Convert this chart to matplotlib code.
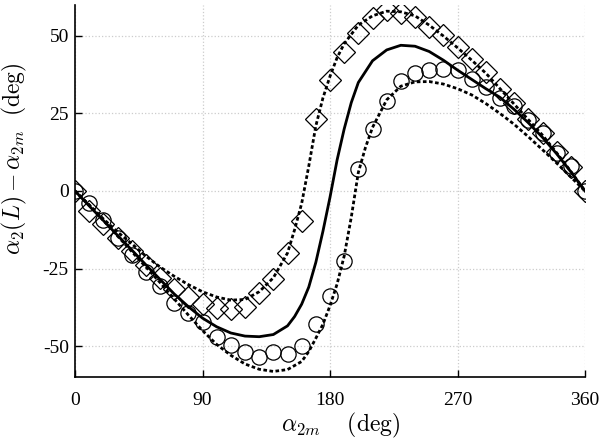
import matplotlib
matplotlib.use("Agg")
import matplotlib.pyplot as plt
import numpy as np

plt.rcParams['mathtext.fontset'] = 'cm'

# marker angles (deg)
x_mark = [0, 10, 20, 30, 40, 50, 60, 70, 80, 90, 100, 110, 120, 130, 140, 150, 160, 170, 180,
          190, 200, 210, 220, 230, 240, 250, 260, 270, 280, 290, 300, 310, 320, 330, 340, 350, 360]

diamonds = [0, -6.5, -10.5, -15, -19.5, -24, -28, -31.5, -34.2, -36.5, -37.7, -38.1, -37.4, -33, -28.4,
            -20, -9.7, 23.2, 35.8, 44.8, 51, 55.7, 58.3, 57.3, 56.2, 53.0, 50.3, 46.6, 42.5, 38.5,
            32.8, 28.3, 23.2, 18.6, 12.7, 7.7, 0]

circles = [0, -4, -9.5, -15, -20.5, -26, -30.8, -36, -39.5, -42.2, -47, -49.7, -51.8, -53.5, -52, -52.6,
           -50, -43, -34, -22.5, 7, 20, 29, 35.5, 38.2, 39, 39.5, 39, 36, 33.4, 30, 27.4, 23, 18.6,
           12.2, 8, 0]

# upper dashed curve
x_up = [0, 10, 20, 30, 40, 50, 60, 70, 80, 90, 100, 110, 120, 130, 140, 150, 155, 160, 165, 170, 175,
        180, 185, 190, 200, 210, 220, 230, 240, 250, 260, 270, 280, 290, 300, 310, 320, 330, 340, 350, 360]
y_up = [0, -4.5, -9, -13.2, -17, -21, -24.5, -27.5, -30.2, -32.5, -34.2, -35.2, -35, -32.5, -28, -20,
        -12.5, -4, 8, 21, 30, 37, 43, 47.5, 53.5, 56.5, 58, 57.8, 56.5, 53.5, 50, 46.2, 42.2, 38, 33,
        28, 23, 18, 12.3, 6.3, 0]

# middle solid curve
x_mid = [0, 10, 20, 30, 40, 50, 60, 70, 80, 90, 100, 110, 120, 130, 140, 150, 155, 160, 165, 170, 175,
         180, 185, 190, 195, 200, 210, 220, 230, 240, 250, 260, 270, 280, 290, 300, 310, 320, 330, 340, 350, 360]
y_mid = [0, -4.8, -9.5, -14.3, -19, -23.8, -28.5, -33.2, -37.3, -41, -43.8, -45.8, -46.8, -47, -46.3,
         -43.5, -40.5, -36.5, -31, -23, -13, -2, 10, 20, 28.5, 35, 42, 45.5, 47, 46.7, 45, 42.2, 39,
         36, 33, 30.2, 26.3, 22, 17.3, 12, 6.2, 0]

# lower dotted curve
x_lo = [0, 10, 20, 30, 40, 50, 60, 70, 80, 90, 100, 110, 120, 130, 140, 150, 160, 165, 170, 175, 180,
        185, 190, 195, 200, 205, 210, 220, 230, 240, 250, 260, 270, 280, 290, 300, 310, 320, 330, 340, 350, 360]
y_lo = [0, -4.5, -9.5, -14.5, -19.5, -24.5, -29.5, -34.8, -40, -45, -49.5, -53, -55.8, -57.5, -58.2,
        -57.6, -55, -51.8, -47.5, -43, -37, -30, -21, -8.5, 6, 14, 20.5, 29.4, 33.8, 35.2, 35.3, 34.5,
        33, 31, 28.2, 25, 21.5, 17.5, 13.3, 9, 4.5, 0]

xticks = [0, 90, 180, 270, 360]
yticks = [-50, -25, 0, 25, 50]
ytick_labels = ['-50', '-25', '0', '25', '50']

fig = plt.figure(figsize=(6.01, 4.41), dpi=100)
ax = fig.add_axes([0.1248, 0.1451, 0.8486, 0.8436])

ax.plot(x_up, y_up, color='black', lw=2.0, linestyle=(0, (1.3, 0.9)), zorder=3)
ax.plot(x_mid, y_mid, color='black', lw=2.0, linestyle='-', zorder=3)
ax.plot(x_lo, y_lo, color='black', lw=2.0, linestyle=(0, (1.3, 0.9)), zorder=3)
ax.plot(x_mark, diamonds, linestyle='none', marker='D', markersize=11.0, markerfacecolor='none',
        markeredgecolor='black', markeredgewidth=0.9, zorder=4)
ax.plot(x_mark, circles, linestyle='none', marker='o', markersize=11, markerfacecolor='none',
        markeredgecolor='black', markeredgewidth=0.9, zorder=4)

ax.set_xlim(0, 360)
ax.set_ylim(-60, 60)
ax.set_xticks(xticks)
ax.set_xticklabels([str(v) for v in xticks], fontfamily='Liberation Serif', fontsize=14)
ax.set_yticks(yticks)
ax.set_yticklabels(ytick_labels, fontfamily='Liberation Serif', fontsize=14)
ax.tick_params(direction='in', length=5, width=1)
ax.tick_params(axis='x', pad=11)
ax.tick_params(axis='y', pad=4.5)
ax.grid(True, color='#cccccc', linestyle=':', linewidth=0.9, zorder=0)
ax.set_axisbelow(True)
for s in ['top', 'right']:
    ax.spines[s].set_visible(False)
for s in ['left', 'bottom']:
    ax.spines[s].set_linewidth(1.2)

ax.set_xlabel(r'$\alpha_{2m}\quad\;\mathrm{(deg)}$', fontsize=17)
ax.set_ylabel(r'$\alpha_2(L) - \alpha_{2m}\ \ \mathrm{(deg)}$', fontsize=17)
ax.xaxis.set_label_coords(0.52, -0.09)
ax.yaxis.set_label_coords(-0.09, 0.586)

fig.savefig('out.png', dpi=100)
